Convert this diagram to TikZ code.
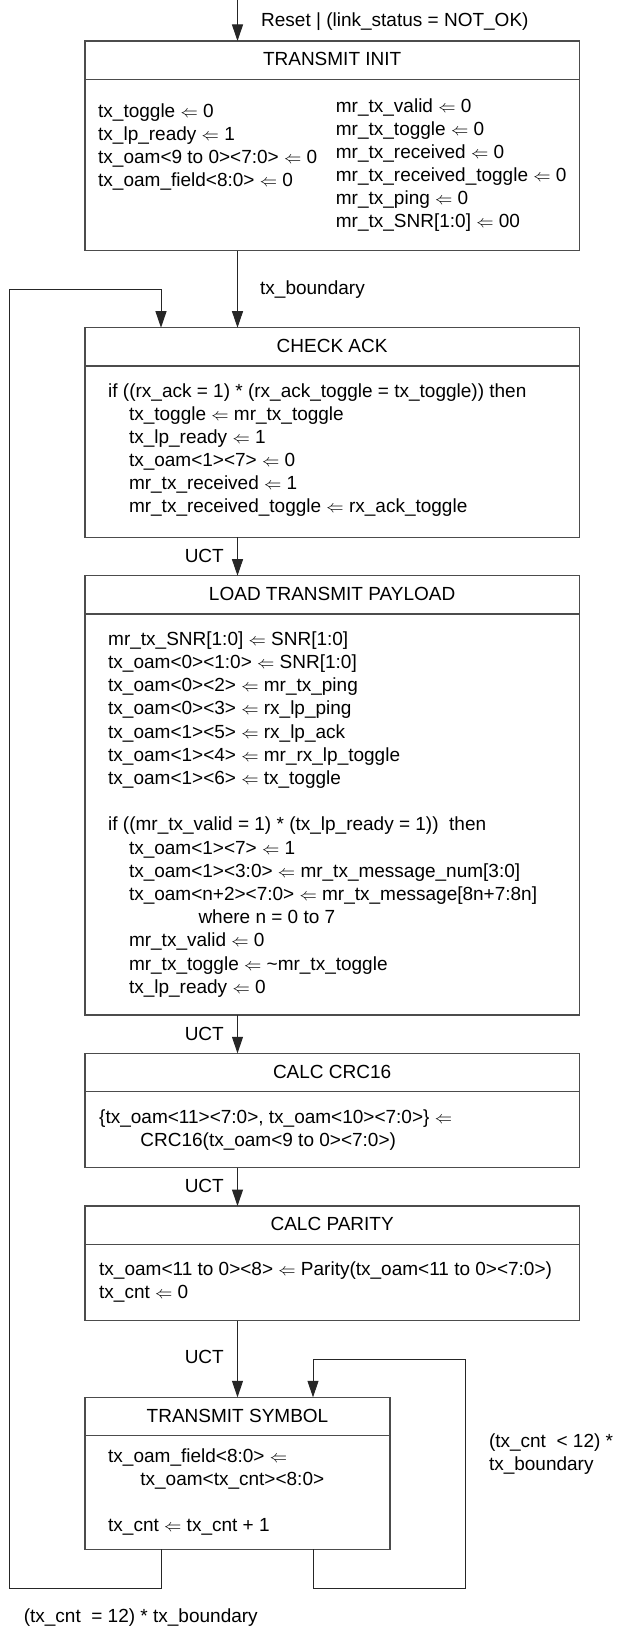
\documentclass[tikz,border=0pt]{standalone}
\usepackage{fontspec}
\setmainfont{Liberation Sans}
\usetikzlibrary{arrows.meta}
\newcommand{\myarr}{\ensuremath{\Leftarrow}}
\newcommand{\indA}{\hspace*{20.8pt}}
\begin{document}
\begin{tikzpicture}[x=1pt,y=-1pt,
  stbox/.style={draw=black!70, line width=1.3pt, inner sep=0pt, outer sep=0pt, minimum width=494.3pt, anchor=north west},
  divider/.style={draw=black!70, line width=1.3pt},
  ttl/.style={font=\fontsize{19}{23}\selectfont, inner sep=0pt, anchor=center},
  body/.style={font=\fontsize{19}{23}\selectfont, inner sep=0pt, anchor=north west, align=left},
  lbl/.style={font=\fontsize{19}{23}\selectfont, inner sep=0pt, anchor=base west},
  uct/.style={font=\fontsize{19}{23}\selectfont, inner sep=0pt, anchor=base east},
  conn/.style={draw=black!85, line width=1pt},
  arr/.style={conn, -{Triangle[length=16.5pt,width=11pt]}},
]
\useasboundingbox (0,0) rectangle (616,1627);
\fill[white] (0,0) rectangle (616,1627);

% state boxes
\node[stbox, minimum height=209.7pt] (init) at (85,41) {};
\node[stbox, minimum height=209.6pt] (check) at (85,327.7) {};
\node[stbox, minimum height=439.3pt] (load) at (85,575.7) {};
\node[stbox, minimum height=114.4pt] (crc) at (85,1053.3) {};
\node[stbox, minimum height=114.7pt] (parity) at (85,1206) {};
\node[stbox, minimum width=305pt, minimum height=152pt] (symbol) at (85,1397.3) {};

% header dividers
\coordinate (init-d) at (0,79.3);
\coordinate (check-d) at (0,366);
\coordinate (load-d) at (0,614);
\coordinate (crc-d) at (0,1091.6);
\coordinate (parity-d) at (0,1244.3);
\coordinate (symbol-d) at (0,1435.3);
\draw[divider] (init.west |- init-d) -- (init.east |- init-d);
\draw[divider] (check.west |- check-d) -- (check.east |- check-d);
\draw[divider] (load.west |- load-d) -- (load.east |- load-d);
\draw[divider] (crc.west |- crc-d) -- (crc.east |- crc-d);
\draw[divider] (parity.west |- parity-d) -- (parity.east |- parity-d);
\draw[divider] (symbol.west |- symbol-d) -- (symbol.east |- symbol-d);

% titles
\path (init.north) ++(0,18.35) node[ttl] (init-t) {TRANSMIT INIT};
\path (check.north) ++(0,18.35) node[ttl] (check-t) {CHECK ACK};
\path (load.north) ++(0,18.35) node[ttl] (load-t) {LOAD TRANSMIT PAYLOAD};
\path (crc.north) ++(0,18.35) node[ttl] (crc-t) {CALC CRC16};
\path (parity.north) ++(0,18.35) node[ttl] (parity-t) {CALC PARITY};
\path (symbol.north) ++(0,18.35) node[ttl] (symbol-t) {TRANSMIT SYMBOL};

% bodies
\node[body] (init-l) at (98,100.9) {\strut tx\_toggle \myarr{} 0\\
tx\_lp\_ready \myarr{} 1\\
tx\_oam<9 to 0><7:0> \myarr{} 0\\
tx\_oam\_field<8:0> \myarr{} 0};
\node[body] (init-r) at (335.7,96.2) {\strut mr\_tx\_valid \myarr{} 0\\
mr\_tx\_toggle \myarr{} 0\\
mr\_tx\_received \myarr{} 0\\
mr\_tx\_received\_toggle \myarr{} 0\\
mr\_tx\_ping \myarr{} 0\\
mr\_tx\_SNR[1:0] \myarr{} 00};

\node[body] (check-b) at (108,381.6) {\strut if ((rx\_ack = 1) * (rx\_ack\_toggle = tx\_toggle)) then\\
\indA tx\_toggle \myarr{} mr\_tx\_toggle\\
\indA tx\_lp\_ready \myarr{} 1\\
\indA tx\_oam<1><7> \myarr{} 0\\
\indA mr\_tx\_received \myarr{} 1\\
\indA mr\_tx\_received\_toggle \myarr{} rx\_ack\_toggle};

\node[body, font=\fontsize{19}{23.2}\selectfont] (load-b) at (108,628.8) {\strut mr\_tx\_SNR[1:0] \myarr{} SNR[1:0]\\
tx\_oam<0><1:0> \myarr{} SNR[1:0]\\
tx\_oam<0><2> \myarr{} mr\_tx\_ping\\
tx\_oam<0><3> \myarr{} rx\_lp\_ping\\
tx\_oam<1><5> \myarr{} rx\_lp\_ack\\
tx\_oam<1><4> \myarr{} mr\_rx\_lp\_toggle\\
tx\_oam<1><6> \myarr{} tx\_toggle\\
\mbox{}\\
if ((mr\_tx\_valid = 1) * (tx\_lp\_ready = 1)) \ then\\
\indA tx\_oam<1><7> \myarr{} 1\\
\indA tx\_oam<1><3:0> \myarr{} mr\_tx\_message\_num[3:0]\\
\indA tx\_oam<n+2><7:0> \myarr{} mr\_tx\_message[8n+7:8n]\\
\hspace*{90.3pt}where n = 0 to 7\\
\indA mr\_tx\_valid \myarr{} 0\\
\indA mr\_tx\_toggle \myarr{} \textasciitilde mr\_tx\_toggle\\
\indA tx\_lp\_ready \myarr{} 0};

\node[body] (crc-b) at (99,1107.2) {\strut\{tx\_oam<11><7:0>, tx\_oam<10><7:0>\} \myarr{}\\
\hspace*{41.2pt}CRC16(tx\_oam<9 to 0><7:0>)};

\node[body] (parity-b) at (99,1258.9) {\strut tx\_oam<11 to 0><8> \myarr{} Parity(tx\_oam<11 to 0><7:0>)\\
tx\_cnt \myarr{} 0};

\node[body] (symbol-b) at (108,1446.2) {\strut tx\_oam\_field<8:0> \myarr{}\\
\hspace*{32.2pt}tx\_oam<tx\_cnt><8:0>\\
\mbox{}\\
tx\_cnt \myarr{} tx\_cnt + 1};

% labels
\node[lbl] (l-reset) at (261,26.7) {Reset | (link\_status = NOT\_OK)};
\node[lbl] (l-txb) at (260,294) {tx\_boundary};
\node[body] (l-lt) at (488.8,1431.6) {\strut(tx\_cnt \ < 12) *\\ tx\_boundary};
\node[lbl] (l-eq) at (23.6,1622) {(tx\_cnt \ = 12) * tx\_boundary};
\node[uct] (u1) at (224,562.8) {UCT};
\node[uct] (u2) at (224,1040.1) {UCT};
\node[uct] (u3) at (224,1192.5) {UCT};
\node[uct] (u4) at (224,1363.8) {UCT};

% main connectors
\coordinate (mx) at (237.5,0);
\draw[arr] (mx) -- (init.north -| mx);
\draw[arr] (init.south -| mx) -- (check.north -| mx);
\draw[arr] (check.south -| mx) -- (load.north -| mx);
\draw[arr] (load.south -| mx) -- (crc.north -| mx);
\draw[arr] (crc.south -| mx) -- (parity.north -| mx);
\draw[arr] (parity.south -| mx) -- (symbol.north -| mx);

% self loop on TRANSMIT SYMBOL
\coordinate (slx) at (313,0);
\coordinate (slbr) at (465,1588.3);
\coordinate (sltr) at (465,1359.3);
\draw[arr] (symbol.south -| slx) |- (slbr) -- (sltr) -| (symbol.north -| slx);

% exit loop back to CHECK ACK
\coordinate (exx) at (161,0);
\coordinate (exbl) at (9,1588.3);
\coordinate (extl) at (9,289.3);
\draw[arr] (symbol.south -| exx) |- (exbl) -- (extl) -| (check.north -| exx);
\end{tikzpicture}
\end{document}
